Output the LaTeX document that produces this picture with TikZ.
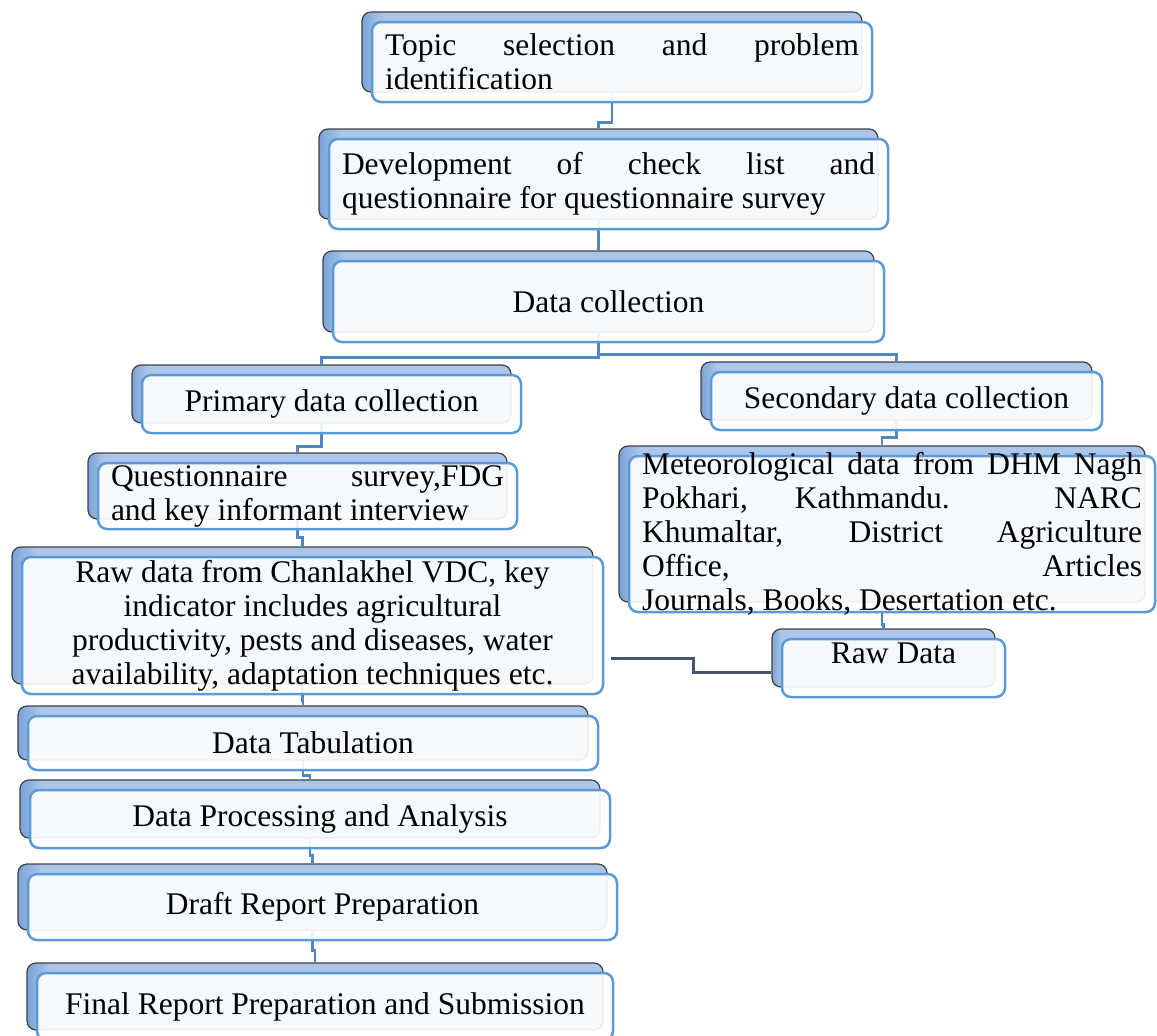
\documentclass[tikz,border=0pt]{standalone}
\usepackage{fontspec}
\setmainfont{Liberation Serif}

\definecolor{frameblue}{HTML}{5B9BD5}
\definecolor{linkblue}{HTML}{4F86C6}
\definecolor{backlight}{HTML}{ABC6E8}
\definecolor{backdark}{HTML}{7BA2D8}
\definecolor{backedge}{HTML}{404040}
\definecolor{linkslate}{HTML}{44546A}

\pgfdeclarehorizontalshading{backshade}{100bp}{color(0bp)=(backdark); color(25bp)=(backdark); color(27bp)=(backlight); color(100bp)=(backlight)}

\tikzset{
  backbox/.style={rectangle, rounded corners=9pt, draw=backedge, line width=1.2pt, shade, shading=backshade, inner sep=0pt},
  frontbox/.style={rectangle, rounded corners=9pt, draw=frameblue, line width=2.5pt, fill=white, fill opacity=0.9, text opacity=1, inner xsep=13pt, inner ysep=0pt, font=\fontsize{31.5}{34}\selectfont},
  boxtext/.style={inner sep=0pt, font=\fontsize{31.5}{34}\selectfont},
  link/.style={draw=linkblue, line width=2.5pt},
  darklink/.style={draw=linkslate, line width=3pt}
}

\begin{document}
\begin{tikzpicture}[x=1pt,y=-1pt]
        \useasboundingbox (0,0) rectangle (1157,1036);

        % Back plates, each one sits up-left of its box
        \foreach \n/\x/\y/\w/\h in {Topic/612/52/500/80, Checklist/598.5/174/559/90,
            Collection/598.5/291.5/551/81, Primary/321.5/394/379/58, Secondary/896.5/391/391/58,
            Survey/297.5/486/419/66, Meteo/882/524/526/156, Field/302.5/615.5/581/137,
            RawData/883.5/658/223/58, Tabulation/303/733/570/54, Processing/310/809/580/58,
            Draft/312.5/897/589/66, Final/315/996.5/576/67}
        {
            \node[backbox, minimum width=\w pt, minimum height=\h pt] (\n Back) at (\x,\y) {};
        }

        % Connectors run behind the boxes
        \foreach \a/\b/\d in {Topic/Checklist/30, Checklist/Collection/16, Collection/Primary/25,
            Collection/Secondary/22, Primary/Survey/23, Secondary/Meteo/17, Survey/Field/18,
            Meteo/RawData/22, Field/Tabulation/16, Tabulation/Processing/15,
            Processing/Draft/17, Draft/Final/20}
        {
            \draw[link] (\a Back.south) -- ++(0,\d) -| (\b Back.north);
        }

        \node[frontbox, minimum width=500pt, minimum height=80pt, text width=474pt, align=justify] (Topic)
            at ([shift={(10,10)}]TopicBack.center) {Topic selection and problem\linebreak identification};
        \node[frontbox, minimum width=559pt, minimum height=90pt, text width=533pt, align=justify] (Checklist)
            at ([shift={(10,10)}]ChecklistBack.center) {Development of check list and\linebreak questionnaire for questionnaire survey};
        \node[frontbox, minimum width=551pt, minimum height=81pt] (Collection)
            at ([shift={(10,10)}]CollectionBack.center) {Data collection};

        \node[frontbox, minimum width=379pt, minimum height=58pt] (Primary)
            at ([shift={(10,10)}]PrimaryBack.center) {Primary data collection};
        \node[frontbox, minimum width=391pt, minimum height=58pt] (Secondary)
            at ([shift={(10,10)}]SecondaryBack.center) {Secondary data collection};

        \node[frontbox, minimum width=419pt, minimum height=66pt, text width=393pt, align=justify] (Survey)
            at ([shift={(10,10)}]SurveyBack.center) {Questionnaire survey,FDG\linebreak and key informant interview};
        \node[frontbox, minimum width=526pt, minimum height=156pt] (Meteo)
            at ([shift={(10,10)}]MeteoBack.center) {};
        \node[boxtext, text width=500pt, align=justify] (MeteoText) at (Meteo.center)
            {Meteorological data from DHM Nagh\linebreak Pokhari, Kathmandu. NARC\linebreak Khumaltar, District Agriculture\linebreak Office, Articles\linebreak Journals, Books, Desertation etc.};

        \node[frontbox, minimum width=581pt, minimum height=137pt, align=center] (Field)
            at ([shift={(10,10)}]FieldBack.center) {Raw data from Chanlakhel VDC, key\\ indicator includes agricultural\\ productivity, pests and diseases, water\\ availability, adaptation techniques etc.};
        \node[frontbox, minimum width=223pt, minimum height=58pt] (RawData)
            at ([shift={(10,10)}]RawDataBack.center) {};
        \node[boxtext] (RawDataText) at ([yshift=15pt]RawData.center) {Raw Data};

        \node[frontbox, minimum width=570pt, minimum height=54pt] (Tabulation)
            at ([shift={(10,10)}]TabulationBack.center) {Data Tabulation};
        \node[frontbox, minimum width=580pt, minimum height=58pt] (Processing)
            at ([shift={(10,10)}]ProcessingBack.center) {Data Processing and Analysis};
        \node[frontbox, minimum width=589pt, minimum height=66pt] (Draft)
            at ([shift={(10,10)}]DraftBack.center) {Draft Report Preparation};
        \node[frontbox, minimum width=576pt, minimum height=67pt] (Final)
            at ([shift={(10,10)}]FinalBack.center) {Final Report Preparation and Submission};

        % Field data joins the secondary raw data
        \coordinate (FieldLinkStart) at (611,658);
        \coordinate (RawDataLinkEnd) at ([yshift=-14pt]RawDataBack.west);
        \draw[darklink] (FieldLinkStart) -- ++(82,0) |- (RawDataLinkEnd);
\end{tikzpicture}
\end{document}
